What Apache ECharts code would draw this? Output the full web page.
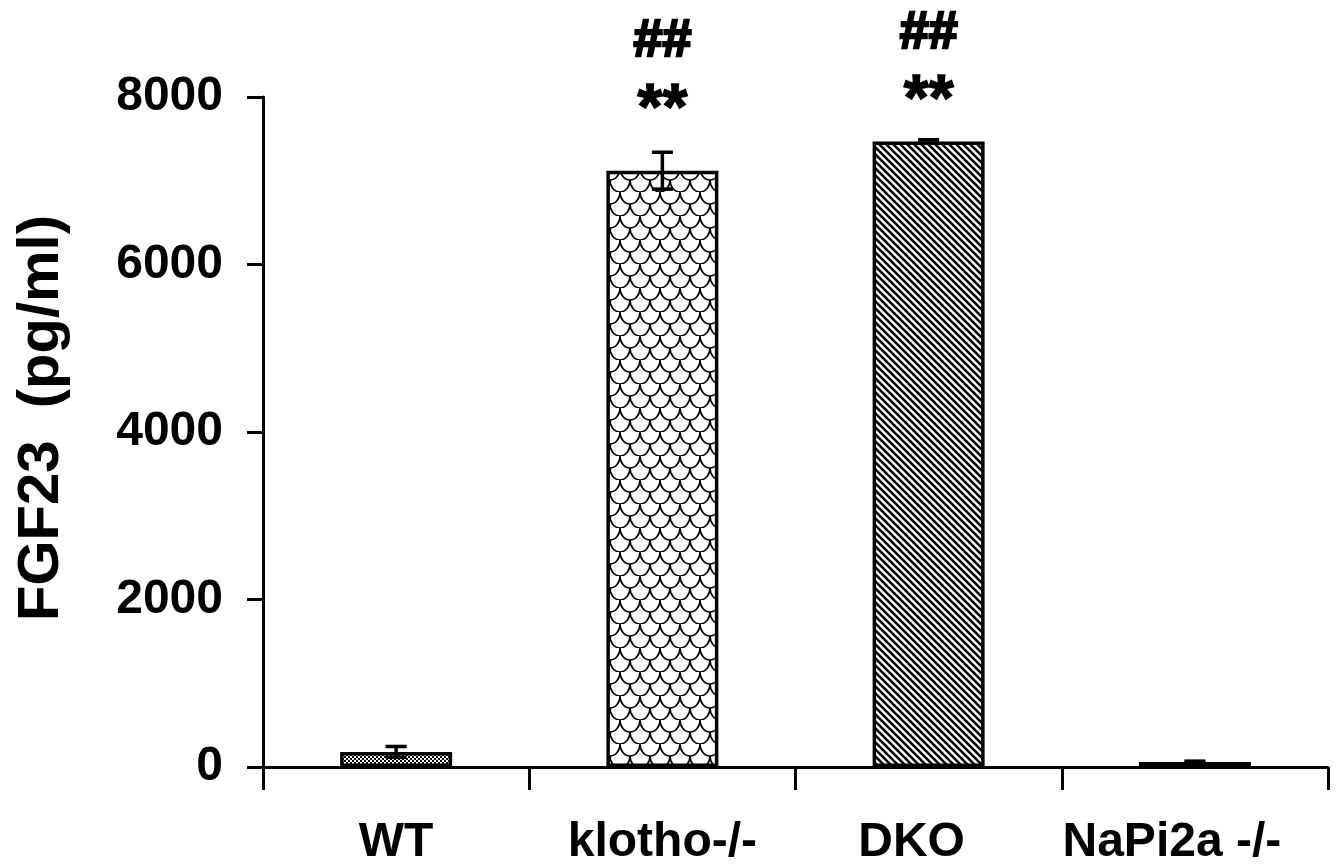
<!DOCTYPE html>
<html>
<head>
<meta charset="utf-8">
<style>
  html, body { margin: 0; padding: 0; background: #ffffff; }
  #chart { width: 1340px; height: 867px; }
</style>
<script src="https://cdn.jsdelivr.net/npm/echarts@6/dist/echarts.min.js"></script>
</head>
<body>
<div id="chart"></div>
<script>
// ---- data ----
const categories = ['WT', 'klotho-/-', 'DKO', 'NaPi2a -/-'];
const values = [180, 7120, 7470, 60];
const errors = [65, 220, 20, 10];
const yTickValues = [0, 2000, 4000, 6000, 8000];
const starMarks = ['', '**', '**', ''];
const hashMarks = ['', '##', '##', ''];
const starLevel = [null, 7830, 7940, null];
const hashLevel = [null, 8660, 8760, null];

// ---- patterns ----
function makeCanvas(w, h) {
  const c = document.createElement('canvas');
  c.width = w; c.height = h;
  const ctx = c.getContext('2d');
  ctx.fillStyle = '#fff';
  ctx.fillRect(0, 0, w, h);
  return [c, ctx];
}
function dotsPattern() {
  const [c, ctx] = makeCanvas(4, 4);
  ctx.fillStyle = '#000';
  ctx.fillRect(0, 0, 2, 2);
  ctx.fillRect(2, 2, 2, 2);
  return c;
}
function scalesPattern() {
  const W = 20, H = 24;
  const [c, ctx] = makeCanvas(W, H);
  ctx.strokeStyle = '#000';
  ctx.lineWidth = 1.6;
  const arcs = [[W / 2, 0], [0, H / 2], [W, H / 2], [W / 2, H]];
  arcs.forEach(([cx, cy]) => {
    ctx.beginPath();
    ctx.ellipse(cx, cy, W / 2, H / 2, 0, 0, Math.PI);
    ctx.stroke();
  });
  return c;
}
function stripesPattern() {
  const S = 7;
  const [c, ctx] = makeCanvas(S, S);
  ctx.strokeStyle = '#000';
  ctx.lineWidth = 2.6;
  [-S, 0, S].forEach((dx) => {
    ctx.beginPath();
    ctx.moveTo(dx - 1, -1);
    ctx.lineTo(dx + S + 1, S + 1);
    ctx.stroke();
  });
  return c;
}
const fills = [
  { image: dotsPattern(), repeat: 'repeat' },
  { image: scalesPattern(), repeat: 'repeat' },
  { image: stripesPattern(), repeat: 'repeat' },
  '#000'
];

const FONT = '"Liberation Sans", Arial, Helvetica, sans-serif';
const labelShift = [0, 0, 34, 46];

const chart = echarts.init(document.getElementById('chart'), null, { renderer: 'canvas' });

function textMarkSeries(levels, marks, fontSize, strokeW) {
  return {
    type: 'custom',
    z: 4,
    clip: false,
    data: levels.map((y, i) => [i, y == null ? NaN : y, i]),
    renderItem: function (params, api) {
      const y = api.value(1);
      if (isNaN(y)) return null;
      const p = api.coord([api.value(0), y]);
      return {
        type: 'text',
        x: p[0], y: p[1],
        style: {
          text: marks[api.value(2)],
          font: 'bold ' + fontSize + 'px ' + FONT,
          fill: '#000',
          stroke: '#000',
          lineWidth: strokeW,
          align: 'center',
          verticalAlign: 'middle'
        }
      };
    }
  };
}

const option = {
  backgroundColor: '#ffffff',
  animation: false,
  grid: { left: 263, right: 12, top: 97, bottom: 100, containLabel: false },
  xAxis: {
    type: 'category',
    data: categories.map((c, i) => ({
      value: c,
      textStyle: { padding: [0, labelShift[i], 0, 0] }
    })),
    boundaryGap: true,
    axisLine: { show: true, lineStyle: { color: '#000', width: 3 } },
    axisTick: { show: true, alignWithLabel: false, length: 23, lineStyle: { color: '#000', width: 3 } },
    axisLabel: {
      margin: 52, color: '#000', fontSize: 48, fontWeight: 'bold', fontFamily: FONT, interval: 0
    },
    splitLine: { show: false }
  },
  yAxis: {
    type: 'value',
    min: yTickValues[0],
    max: yTickValues[yTickValues.length - 1],
    interval: yTickValues[1] - yTickValues[0],
    axisLine: { show: true, lineStyle: { color: '#000', width: 3 } },
    axisTick: { show: true, length: 16, lineStyle: { color: '#000', width: 3 } },
    axisLabel: {
      margin: 40, color: '#000', fontSize: 48, fontWeight: 'bold', fontFamily: FONT,
      formatter: v => String(v)
    },
    splitLine: { show: false }
  },
  graphic: [{
    type: 'text',
    x: 42, y: 418,
    rotation: Math.PI / 2,
    style: {
      text: 'FGF23  (pg/ml)',
      font: 'bold 58px ' + FONT,
      fill: '#000',
      align: 'center',
      verticalAlign: 'middle'
    }
  }],
  series: [
    {
      type: 'bar',
      barWidth: 112,
      data: values.map((v, i) => ({
        value: v,
        itemStyle: { color: fills[i], borderColor: '#000', borderWidth: 3.5 }
      })),
      z: 2
    },
    {
      type: 'custom',
      z: 3,
      data: values.map((v, i) => [i, v, errors[i]]),
      renderItem: function (params, api) {
        const x = api.value(0), y = api.value(1), e = api.value(2);
        const top = api.coord([x, y + e]);
        const bot = api.coord([x, y - e]);
        const hw = 10.5;
        const st = { stroke: '#000', lineWidth: 3.5 };
        return {
          type: 'group',
          children: [
            { type: 'line', shape: { x1: top[0], y1: top[1], x2: bot[0], y2: bot[1] }, style: st },
            { type: 'line', shape: { x1: top[0] - hw, y1: top[1], x2: top[0] + hw, y2: top[1] }, style: st },
            { type: 'line', shape: { x1: bot[0] - hw, y1: bot[1], x2: bot[0] + hw, y2: bot[1] }, style: st }
          ]
        };
      }
    },
    textMarkSeries(starLevel, starMarks, 64, 1.5),
    textMarkSeries(hashLevel, hashMarks, 52, 2.5)
  ]
};
chart.setOption(option);
</script>
</body>
</html>
